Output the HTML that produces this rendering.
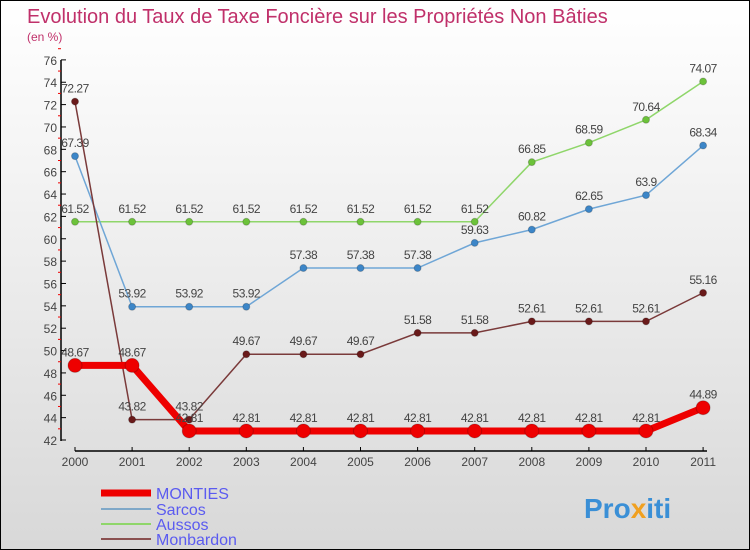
<!DOCTYPE html>
<html><head><meta charset="utf-8"><style>
body{margin:0}
#c{width:748px;height:548px;border:1px solid #000;position:relative;background:linear-gradient(#fff,#f4f4f4 30%,#d8d8d8);font-family:"Liberation Sans",sans-serif;overflow:hidden}
</style></head><body>
<div id="c">
<svg id="s" width="748" height="548" xmlns="http://www.w3.org/2000/svg">
<text x="26" y="22" font-size="20" fill="#c0306a">Evolution du Taux de Taxe Foncière sur les Propriétés Non Bâties</text>
<text x="26" y="40" font-size="12" fill="#c0306a">(en %)</text>
<text x="583" y="517" font-size="28" font-weight="bold" fill="#3a8fd6">Pro<tspan fill="#f0a020">x</tspan>iti</text>
</svg>
</div>
<script>
const years=["2000","2001","2002","2003","2004","2005","2006","2007","2008","2009","2010","2011"];
const monties=[48.67,48.67,42.81,42.81,42.81,42.81,42.81,42.81,42.81,42.81,42.81,44.89];
const sarcos=[67.39,53.92,53.92,53.92,57.38,57.38,57.38,59.63,60.82,62.65,63.9,68.34];
const aussos=[61.52,61.52,61.52,61.52,61.52,61.52,61.52,61.52,66.85,68.59,70.64,74.07];
const monbardon=[72.27,43.82,43.82,49.67,49.67,49.67,51.58,51.58,52.61,52.61,52.61,55.16];
const yTicks=[42,44,46,48,50,52,54,56,58,60,62,64,66,68,70,72,74,76];
const s=document.getElementById('s');const NS="http://www.w3.org/2000/svg";
const X=i=>74+i*57.1, Y=v=>439-(v-42)*11.18;
function el(t,a,p){const e=document.createElementNS(NS,t);for(const k in a)e.setAttribute(k,a[k]);(p||s).appendChild(e);return e;}
const ax=el('g',{});


el('line',{x1:60,y1:59,x2:60,y2:440,stroke:'#000','stroke-width':1.5},ax);
el('line',{x1:74,y1:450,x2:706,y2:450,stroke:'#000','stroke-width':1.5},ax);
yTicks.forEach(v=>{el('line',{x1:60,y1:Y(v),x2:65,y2:Y(v),stroke:'#000'},ax);
 el('line',{x1:57,y1:Y(v+1),x2:60,y2:Y(v+1),stroke:'#e00'},ax);
 const t=el('text',{x:56,y:Y(v)+5,'font-size':12,fill:'#444','text-anchor':'end'},ax);t.textContent=v;
 
 });
years.forEach((y,i)=>{el('line',{x1:X(i),y1:446,x2:X(i),y2:450,stroke:'#000'},ax);
 const t=el('text',{x:X(i),y:465,'font-size':12,fill:'#444','text-anchor':'middle'},ax);t.textContent=y;
 
 });
function fmt(v){return String(v);}
function series(data,col,w,r,name,dot){
 const g=el('g',{});
 
 
 el('polyline',{points:data.map((v,i)=>X(i)+','+Y(v)).join(' '),fill:'none',stroke:col,'stroke-width':w},g);
 data.forEach((v,i)=>{const c=el('circle',{cx:X(i),cy:Y(v),r:r,fill:dot,stroke:'#0003'},g);
  
  
  const t=el('text',{x:X(i),y:Y(v)-9,'font-size':12,fill:'#444','text-anchor':'middle','letter-spacing':'-0.5'},g);t.textContent=fmt(v);
  
  });
}
series(aussos,'#8fd66a',1.5,3.5,'aussos-series','#6cc23a');
series(sarcos,'#6fa6d6',1.5,3.5,'sarcos-series','#3c86c8');
series(monbardon,'#7a3a3a',1.5,3.5,'monbardon-series','#6a1a1a');
series(monties,'#e00',7,7,'monties-series','#e00');
const lg=[['MONTIES','#e00',7,492],['Sarcos','#7fa8c8',2,508],['Aussos','#8fd66a',2,523],['Monbardon','#8a5050',2,538]];
lg.forEach(l=>{const g=el('g',{});
 
 
 el('line',{x1:100,y1:l[3],x2:150,y2:l[3],stroke:l[1],'stroke-width':l[2]},g);
 const t=el('text',{x:155,y:l[3]+6,'font-size':16,fill:'#5b5bf0'},g);t.textContent=l[0];});
</script>
</body></html>
